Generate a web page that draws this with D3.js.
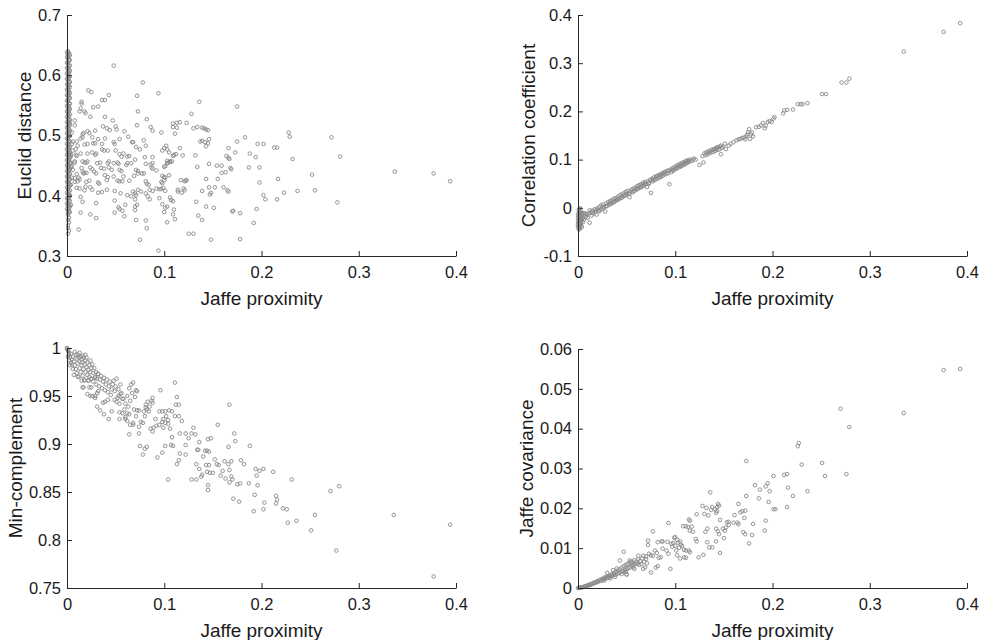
<!DOCTYPE html>
<html>
<head>
<meta charset="utf-8">
<script src="https://cdn.jsdelivr.net/npm/d3@7"></script>
<style>
  body { margin: 0; background: #fff; }
  svg text { font-family: "Liberation Sans", Arial, Helvetica, sans-serif; }
</style>
</head>
<body>
<svg id="chart" width="981" height="640"></svg>
<script>
// tick labels
const xTicks = [0, 0.1, 0.2, 0.3, 0.4]
const euclidTicks = [0.3, 0.4, 0.5, 0.6, 0.7]
const corrTicks = [-0.1, 0, 0.1, 0.2, 0.3, 0.4]
const minTicks = [0.75, 0.8, 0.85, 0.9, 0.95, 1]
const covTicks = [0, 0.01, 0.02, 0.03, 0.04, 0.05, 0.06]

// [Jaffe proximity, Euclid distance]
const euclidPoints = [
  [0.001,0.337],[0.002,0.342],[0.001,0.346],[0.001,0.351],[0.002,0.356],[0.001,0.36],[0.002,0.364],[0.001,0.368],
  [0.001,0.371],[0.002,0.374],[0.001,0.376],[0.002,0.379],[0.001,0.383],[0.002,0.385],[0.001,0.388],[0.001,0.392],
  [0.002,0.394],[0.001,0.397],[0.002,0.401],[0.001,0.403],[0.002,0.406],[0.001,0.41],[0.001,0.412],[0.002,0.415],
  [0.001,0.419],[0.002,0.421],[0.001,0.424],[0.002,0.428],[0.001,0.43],[0.001,0.433],[0.002,0.437],[0.001,0.439],
  [0.002,0.442],[0.001,0.446],[0.002,0.448],[0.001,0.451],[0.001,0.455],[0.002,0.457],[0.001,0.46],[0.002,0.463],
  [0.001,0.466],[0.002,0.469],[0.001,0.472],[0.001,0.475],[0.002,0.478],[0.001,0.481],[0.002,0.484],[0.001,0.487],
  [0.002,0.49],[0.001,0.493],[0.001,0.496],[0.002,0.499],[0.001,0.502],[0.002,0.505],[0.001,0.508],[0.002,0.511],
  [0.001,0.514],[0.001,0.517],[0.002,0.52],[0.001,0.523],[0.002,0.526],[0.001,0.529],[0.002,0.532],[0.001,0.535],
  [0.001,0.538],[0.002,0.541],[0.001,0.544],[0.002,0.547],[0.001,0.55],[0.002,0.553],[0.001,0.556],[0.001,0.559],
  [0.002,0.562],[0.001,0.565],[0.002,0.568],[0.001,0.571],[0.002,0.574],[0.001,0.577],[0.001,0.58],[0.002,0.583],
  [0.001,0.586],[0.002,0.589],[0.001,0.592],[0.002,0.595],[0.001,0.598],[0.001,0.601],[0.002,0.604],[0.001,0.607],
  [0.002,0.61],[0.001,0.613],[0.002,0.616],[0.001,0.619],[0.001,0.622],[0.002,0.625],[0.001,0.628],[0.002,0.631],
  [0.001,0.634],[0.002,0.637],[0.001,0.64],
  [0.003,0.373],[0,0.378],[0.003,0.382],[0,0.387],[0.003,0.391],[0,0.396],[0.003,0.4],[0,0.405],
  [0.003,0.409],[0,0.414],[0.003,0.418],[0,0.423],[0.003,0.427],[0,0.432],[0.003,0.436],[0,0.441],
  [0.003,0.445],[0,0.45],[0.003,0.454],[0,0.459],[0.003,0.463],[0,0.468],[0.003,0.472],[0,0.477],
  [0.003,0.481],[0,0.486],[0.003,0.49],[0,0.495],[0.003,0.499],[0,0.504],[0.003,0.508],[0,0.513],
  [0.003,0.517],[0,0.522],[0.003,0.526],[0,0.531],[0.003,0.535],[0,0.54],[0.003,0.544],[0,0.549],
  [0.003,0.553],[0,0.558],[0.003,0.562],[0,0.567],[0.003,0.571],[0,0.576],[0.003,0.58],[0,0.585],
  [0.003,0.589],[0,0.594],[0.003,0.598],[0,0.603],[0.003,0.607],[0,0.612],[0.003,0.616],[0,0.621],
  [0.003,0.625],[0,0.63],[0.003,0.634],[0,0.638],
  [0.003,0.52],[0.004,0.455],[0.005,0.43],[0.003,0.4],[0.006,0.49],[0.004,0.385],[0.005,0.505],[0.003,0.47],
  [0.004,0.465],[0.005,0.449],[0.004,0.418],[0.005,0.486],[0.008,0.517],[0.009,0.468],[0.008,0.423],[0.011,0.424],
  [0.048,0.616],[0.078,0.588],[0.094,0.57],[0.136,0.556],[0.175,0.548],[0.022,0.575],[0.025,0.572],[0.036,0.559],
  [0.039,0.559],[0.043,0.567],[0.072,0.566],[0.032,0.548],[0.027,0.547],[0.015,0.556],[0.015,0.553],[0.014,0.545],
  [0.018,0.54],[0.019,0.537],[0.013,0.54],[0.073,0.54],[0.128,0.536],[0.039,0.531],[0.024,0.531],[0.047,0.525],
  [0.082,0.527],[0.109,0.52],[0.113,0.521],[0.116,0.522],[0.123,0.521],[0.008,0.525],[0.05,0.515],[0.037,0.515],
  [0.041,0.512],[0.044,0.509],[0.051,0.51],[0.072,0.517],[0.086,0.514],[0.088,0.508],[0.109,0.514],[0.113,0.513],
  [0.13,0.512],[0.134,0.514],[0.139,0.513],[0.141,0.512],[0.143,0.51],[0.145,0.509],[0.097,0.505],[0.111,0.503],
  [0.228,0.505],[0.229,0.498],[0.272,0.497],[0.183,0.497],[0.029,0.508],[0.021,0.507],[0.023,0.504],[0.017,0.504],
  [0.016,0.502],[0.016,0.497],[0.014,0.495],[0.026,0.497],[0.032,0.494],[0.059,0.507],[0.063,0.498],[0.054,0.494],
  [0.039,0.495],[0.079,0.492],[0.146,0.494],[0.137,0.49],[0.139,0.491],[0.142,0.489],[0.145,0.487],[0.143,0.482],
  [0.175,0.49],[0.196,0.486],[0.202,0.486],[0.213,0.48],[0.216,0.48],[0.01,0.49],[0.011,0.483],[0.009,0.477],
  [0.018,0.485],[0.021,0.486],[0.027,0.487],[0.029,0.487],[0.036,0.486],[0.048,0.489],[0.049,0.486],[0.067,0.489],
  [0.068,0.489],[0.071,0.481],[0.075,0.477],[0.081,0.483],[0.102,0.483],[0.1,0.479],[0.103,0.477],[0.098,0.475],
  [0.116,0.479],[0.166,0.479],[0.173,0.472],[0.188,0.47],[0.194,0.464],[0.232,0.461],[0.281,0.465],[0.006,0.475],
  [0.004,0.468],[0.01,0.466],[0.014,0.47],[0.021,0.47],[0.026,0.472],[0.03,0.47],[0.029,0.468],[0.038,0.475],
  [0.036,0.477],[0.042,0.475],[0.05,0.475],[0.054,0.469],[0.058,0.47],[0.056,0.465],[0.064,0.466],[0.062,0.465],
  [0.07,0.46],[0.08,0.464],[0.088,0.464],[0.109,0.466],[0.105,0.472],[0.11,0.468],[0.112,0.469],[0.119,0.467],
  [0.103,0.458],[0.104,0.455],[0.106,0.456],[0.108,0.457],[0.103,0.454],[0.132,0.467],[0.164,0.466],[0.166,0.463],
  [0.167,0.461],[0.008,0.457],[0.008,0.455],[0.016,0.457],[0.018,0.455],[0.02,0.455],[0.021,0.457],[0.031,0.454],
  [0.034,0.455],[0.042,0.454],[0.043,0.457],[0.052,0.455],[0.048,0.454],[0.053,0.453],[0.061,0.451],[0.062,0.454],
  [0.066,0.454],[0.081,0.453],[0.086,0.452],[0.088,0.454],[0.1,0.448],[0.101,0.449],[0.106,0.457],[0.146,0.453],
  [0.154,0.45],[0.159,0.45],[0.169,0.444],[0.168,0.446],[0.187,0.447],[0.198,0.447],[0.134,0.448],[0.337,0.44],
  [0.252,0.435],[0.004,0.448],[0.006,0.443],[0.015,0.446],[0.016,0.44],[0.024,0.447],[0.026,0.444],[0.035,0.446],
  [0.038,0.445],[0.043,0.447],[0.046,0.443],[0.054,0.443],[0.056,0.441],[0.071,0.443],[0.073,0.441],[0.073,0.437],
  [0.087,0.447],[0.088,0.445],[0.092,0.442],[0.077,0.437],[0.079,0.437],[0.159,0.438],[0.163,0.439],[0.017,0.437],
  [0.018,0.438],[0.02,0.438],[0.03,0.437],[0.028,0.44],[0.01,0.436],[0.012,0.43],[0.008,0.429],[0.013,0.427],
  [0.039,0.434],[0.042,0.431],[0.048,0.432],[0.058,0.432],[0.069,0.433],[0.098,0.433],[0.1,0.431],[0.101,0.43],
  [0.105,0.434],[0.143,0.428],[0.155,0.428],[0.217,0.428],[0.02,0.423],[0.023,0.425],[0.032,0.422],[0.033,0.42],
  [0.041,0.426],[0.052,0.425],[0.054,0.424],[0.057,0.424],[0.064,0.425],[0.081,0.424],[0.082,0.42],[0.084,0.418],
  [0.097,0.423],[0.098,0.421],[0.1,0.426],[0.117,0.426],[0.122,0.425],[0.123,0.426],[0.121,0.424],[0.152,0.414],
  [0.161,0.414],[0.165,0.409],[0.166,0.407],[0.01,0.413],[0.013,0.412],[0.019,0.415],[0.018,0.409],[0.024,0.414],
  [0.026,0.41],[0.032,0.405],[0.036,0.406],[0.041,0.41],[0.049,0.408],[0.055,0.404],[0.062,0.401],[0.068,0.407],
  [0.07,0.404],[0.071,0.401],[0.073,0.41],[0.076,0.407],[0.085,0.41],[0.088,0.408],[0.092,0.412],[0.095,0.411],
  [0.097,0.411],[0.081,0.404],[0.114,0.407],[0.114,0.41],[0.118,0.405],[0.12,0.412],[0.121,0.409],[0.101,0.408],
  [0.099,0.413],[0.139,0.408],[0.147,0.402],[0.148,0.405],[0.146,0.414],[0.198,0.422],[0.202,0.401],[0.204,0.394],
  [0.223,0.405],[0.237,0.408],[0.255,0.409],[0.216,0.394],[0.278,0.389],[0.014,0.398],[0.016,0.39],[0.03,0.388],
  [0.049,0.392],[0.06,0.385],[0.053,0.381],[0.054,0.378],[0.057,0.375],[0.066,0.399],[0.07,0.394],[0.072,0.385],
  [0.07,0.382],[0.07,0.376],[0.083,0.399],[0.085,0.394],[0.095,0.396],[0.098,0.386],[0.1,0.373],[0.101,0.38],
  [0.103,0.382],[0.106,0.397],[0.107,0.393],[0.109,0.391],[0.11,0.377],[0.109,0.369],[0.111,0.361],[0.103,0.356],
  [0.133,0.39],[0.135,0.367],[0.143,0.382],[0.151,0.38],[0.139,0.36],[0.17,0.374],[0.171,0.375],[0.178,0.371],
  [0.195,0.378],[0.192,0.355],[0.014,0.372],[0.024,0.369],[0.03,0.363],[0.049,0.372],[0.059,0.366],[0.071,0.36],
  [0.081,0.359],[0.082,0.346],[0.012,0.344],[0.075,0.327],[0.125,0.337],[0.13,0.337],[0.148,0.327],[0.178,0.328],
  [0.094,0.309],[0.377,0.437],[0.394,0.424]
]

// [Jaffe proximity, correlation coefficient]
const corrPoints = [
  [0.001,-0.045],[0.001,-0.042],[0.002,-0.039],[0.001,-0.036],[0.002,-0.033],[0.001,-0.03],[0.002,-0.027],[0.001,-0.024],
  [0.002,-0.021],[0.001,-0.018],[0.002,-0.015],[0.001,-0.012],[0.002,-0.009],[0.001,-0.006],[0.001,-0.003],[0.002,-0.001],
  [0.003,-0.031],[0.003,-0.022],[0.003,-0.015],[0.004,-0.026],[0.004,-0.018],[0.002,-0.043],[0.003,-0.037],[0.004,-0.011],
  [0.005,-0.021],[0.006,-0.025],[0.007,-0.016],[0.008,-0.019],[0.006,-0.011],[0.009,-0.013],[0.01,-0.021],[0.011,-0.012],
  [0.012,-0.031],[0.013,-0.009],[0.014,-0.016],[0.015,-0.006],[0.016,-0.012],[0.017,-0.003],[0.018,-0.008],[0.019,-0.014],
  [0.02,-0.001],[0.021,-0.006],[0.022,0.002],[0.023,-0.004],[0.024,0.005],[0.025,-0.002],[0.026,0.007],[0.027,0.001],
  [0.028,-0.008],[0.029,0.009],[0.03,0.004],[0.031,0.012],[0.032,0.006],[0.033,0.014],[0.034,0.008],[0.035,0.016],
  [0.036,0.011],[0.037,0.019],[0.038,0.013],[0.039,0.02],[0.04,0.016],[0.041,0.023],[0.042,0.018],[0.043,0.026],
  [0.044,0.02],[0.045,0.028],[0.046,0.023],[0.047,0.03],[0.048,0.025],[0.049,0.033],[0.05,0.028],[0.051,0.035],
  [0.052,0.03],[0.053,0.022],[0.054,0.034],[0.055,0.038],[0.056,0.032],[0.057,0.04],[0.058,0.035],[0.059,0.042],
  [0.06,0.038],[0.061,0.045],[0.062,0.04],[0.063,0.047],[0.064,0.042],[0.065,0.049],[0.066,0.045],[0.067,0.052],
  [0.068,0.046],[0.069,0.054],[0.07,0.05],[0.071,0.043],[0.072,0.055],[0.073,0.05],[0.074,0.058],[0.075,0.031],
  [0.076,0.06],[0.077,0.055],[0.078,0.063],[0.079,0.058],[0.08,0.065],[0.081,0.06],[0.082,0.067],[0.083,0.062],
  [0.084,0.069],[0.085,0.064],[0.086,0.071],[0.087,0.066],[0.088,0.073],[0.089,0.069],[0.09,0.075],[0.091,0.07],
  [0.092,0.077],[0.093,0.072],[0.094,0.049],[0.095,0.079],[0.096,0.074],[0.097,0.082],[0.098,0.077],[0.099,0.084],
  [0.1,0.08],[0.101,0.087],[0.102,0.082],[0.103,0.089],[0.104,0.084],[0.105,0.091],[0.106,0.086],[0.107,0.093],
  [0.108,0.088],[0.109,0.095],[0.11,0.09],[0.111,0.097],[0.112,0.093],[0.113,0.099],[0.114,0.095],[0.115,0.1],
  [0.117,0.097],[0.119,0.102],[0.121,0.1],[0.125,0.089],[0.129,0.094],[0.128,0.107],[0.13,0.113],[0.131,0.109],
  [0.132,0.115],[0.133,0.111],[0.134,0.117],[0.135,0.113],[0.136,0.119],[0.137,0.115],[0.138,0.121],[0.139,0.116],
  [0.14,0.122],[0.141,0.118],[0.142,0.124],[0.143,0.12],[0.144,0.126],[0.145,0.121],[0.146,0.127],[0.147,0.111],
  [0.148,0.124],[0.149,0.127],[0.152,0.122],[0.155,0.129],[0.157,0.133],[0.16,0.136],[0.163,0.14],[0.165,0.142],
  [0.167,0.143],[0.169,0.145],[0.171,0.146],[0.172,0.142],[0.173,0.148],[0.174,0.152],[0.175,0.157],[0.176,0.163],
  [0.177,0.143],[0.178,0.152],[0.179,0.156],[0.18,0.148],[0.183,0.167],[0.186,0.168],[0.188,0.171],[0.19,0.176],
  [0.192,0.165],[0.193,0.17],[0.195,0.178],[0.197,0.18],[0.199,0.178],[0.201,0.185],[0.202,0.188],[0.211,0.196],
  [0.212,0.202],[0.215,0.203],[0.221,0.204],[0.226,0.215],[0.229,0.215],[0.231,0.215],[0.236,0.217],[0.251,0.236],
  [0.255,0.236],[0.271,0.26],[0.276,0.26],[0.279,0.268],[0.335,0.324],[0.376,0.365],[0.393,0.383],
  [0.008,-0.012],[0.012,-0.005],[0.015,-0.01],[0.019,-0.004],[0.022,-0.007],[0.026,0.002],[0.029,0.003],[0.033,0.009],
  [0.037,0.012],[0.041,0.017],[0.045,0.021],[0.049,0.026],[0.053,0.029],[0.057,0.034],[0.061,0.039],[0.065,0.043],
  [0.069,0.049],[0.073,0.052],[0.077,0.058],[0.081,0.065],[0.085,0.068],[0.089,0.073],[0.093,0.077],[0.097,0.078],
  [0.101,0.083],[0.105,0.087],[0.109,0.092],[0.113,0.096],[0.118,0.1],[0.143,0.125],[0.147,0.129],[0.151,0.133],
  [0,-0.04],[0,-0.034],[0,-0.028],[0,-0.02],[0,-0.013],[0.003,-0.008],[0.005,-0.03],[0.004,-0.04]
]

// [Jaffe proximity, min-complement]
const minPoints = [
  [0,1],[0,0.999],[0.001,0.998],[0.001,0.997],[0.002,0.995],[0.002,0.993],[0.001,0.991],[0.003,0.99],
  [0.004,0.994],[0.005,0.988],[0.004,0.985],[0.006,0.991],[0.007,0.986],[0.008,0.982],[0.009,0.993],[0.009,0.978],
  [0.01,0.989],[0.01,0.974],[0.011,0.984],[0.011,0.97],[0.012,0.99],[0.013,0.979],[0.013,0.986],[0.014,0.975],
  [0.014,0.991],[0.015,0.982],[0.015,0.988],[0.016,0.971],[0.016,0.985],[0.017,0.978],[0.017,0.99],[0.018,0.983],
  [0.018,0.967],[0.019,0.987],[0.019,0.975],[0.02,0.98],[0.02,0.99],[0.021,0.972],[0.021,0.985],[0.022,0.977],
  [0.022,0.966],[0.023,0.982],[0.023,0.97],[0.024,0.987],[0.024,0.975],[0.025,0.979],[0.025,0.968],[0.026,0.983],
  [0.027,0.974],[0.027,0.965],[0.028,0.979],[0.029,0.97],[0.03,0.975],[0.03,0.962],[0.031,0.968],[0.032,0.973],
  [0.033,0.96],[0.034,0.967],[0.035,0.971],[0.036,0.958],[0.037,0.965],[0.038,0.969],[0.039,0.956],[0.04,0.962],
  [0.041,0.967],[0.042,0.954],[0.043,0.96],[0.044,0.965],[0.045,0.951],[0.046,0.957],[0.047,0.962],[0.048,0.966],
  [0.049,0.955],[0.05,0.96],[0.051,0.968],[0.052,0.948],[0.053,0.957],[0.055,0.962],[0.056,0.953],[0.058,0.947],
  [0.06,0.942],[0.062,0.95],[0.063,0.939],[0.065,0.945],[0.067,0.953],
  [0.002,0.987],[0.005,0.983],[0.007,0.972],[0.012,0.97],[0.015,0.966],[0.018,0.966],[0.022,0.966],[0.025,0.968],
  [0.029,0.969],[0.032,0.973],[0.016,0.959],[0.017,0.959],[0.023,0.959],[0.025,0.959],[0.021,0.952],[0.024,0.95],
  [0.026,0.95],[0.029,0.948],[0.029,0.95],[0.031,0.953],[0.032,0.955],[0.008,0.996],[0.011,0.993],[0.013,0.995],
  [0.016,0.992],[0.019,0.993],[0.006,0.978],[0.003,0.982],
  [0.111,0.964],[0.096,0.956],[0.113,0.949],[0.115,0.941],[0.112,0.941],[0.167,0.941],[0.155,0.92],[0.13,0.917],
  [0.132,0.91],[0.128,0.911],[0.122,0.911],[0.116,0.911],[0.118,0.924],[0.115,0.929],[0.111,0.929],[0.108,0.934],
  [0.105,0.935],[0.101,0.934],[0.102,0.929],[0.098,0.934],[0.095,0.934],[0.099,0.926],[0.098,0.923],[0.099,0.917],
  [0.106,0.916],[0.108,0.907],[0.107,0.899],[0.109,0.898],[0.104,0.921],[0.101,0.922],[0.104,0.925],[0.091,0.926],
  [0.089,0.917],[0.086,0.916],[0.088,0.913],[0.092,0.919],[0.095,0.92],[0.088,0.943],[0.085,0.939],[0.084,0.934],
  [0.082,0.936],[0.081,0.941],[0.083,0.944],[0.079,0.934],[0.081,0.938],[0.08,0.929],[0.087,0.945],[0.088,0.948],
  [0.07,0.949],[0.071,0.956],[0.072,0.955],[0.068,0.964],[0.066,0.962],[0.064,0.958],[0.069,0.936],[0.072,0.935],
  [0.074,0.935],[0.071,0.929],[0.074,0.918],[0.076,0.923],[0.078,0.922],[0.074,0.911],[0.064,0.91],[0.068,0.92],
  [0.065,0.92],[0.068,0.922],[0.06,0.928],[0.06,0.926],[0.062,0.924],[0.062,0.932],[0.064,0.931],[0.059,0.936],
  [0.054,0.933],[0.057,0.932],[0.054,0.926],[0.046,0.934],[0.043,0.926],[0.038,0.931],[0.031,0.939],[0.034,0.935],
  [0.037,0.943],[0.039,0.944],[0.042,0.946],[0.049,0.946],[0.051,0.944],[0.053,0.95],[0.054,0.942],[0.057,0.947],
  [0.055,0.952],[0.075,0.898],[0.078,0.889],[0.082,0.897],[0.08,0.895],[0.093,0.886],[0.098,0.891],[0.101,0.898],
  [0.104,0.863],[0.113,0.879],[0.115,0.883],[0.116,0.89],[0.122,0.899],[0.122,0.889],[0.125,0.906],[0.136,0.902],
  [0.134,0.894],[0.135,0.894],[0.133,0.879],[0.136,0.874],[0.128,0.863],[0.133,0.863],[0.138,0.866],[0.139,0.868],
  [0.14,0.887],[0.142,0.893],[0.144,0.893],[0.146,0.892],[0.143,0.878],[0.146,0.878],[0.145,0.905],[0.148,0.906],
  [0.144,0.871],[0.147,0.87],[0.15,0.87],[0.145,0.857],[0.145,0.852],[0.152,0.884],[0.154,0.879],[0.156,0.878],
  [0.158,0.867],[0.16,0.872],[0.163,0.864],[0.162,0.882],[0.166,0.879],[0.167,0.873],[0.167,0.86],[0.17,0.863],
  [0.169,0.866],[0.166,0.897],[0.169,0.882],[0.172,0.911],[0.173,0.903],[0.171,0.843],[0.175,0.858],[0.178,0.859],
  [0.177,0.84],[0.179,0.883],[0.182,0.879],[0.188,0.898],[0.187,0.859],[0.192,0.83],[0.193,0.847],[0.194,0.874],
  [0.198,0.872],[0.202,0.874],[0.195,0.867],[0.196,0.857],[0.203,0.839],[0.202,0.832],[0.212,0.871],[0.215,0.846],
  [0.216,0.842],[0.215,0.838],[0.222,0.833],[0.226,0.832],[0.227,0.818],[0.231,0.863],[0.236,0.82],[0.251,0.81],
  [0.255,0.826],[0.271,0.851],[0.277,0.789],[0.28,0.856],[0.336,0.826],[0.377,0.762],[0.394,0.816]
]

// [Jaffe proximity, Jaffe covariance]
const covPoints = [
  [0,0],[0.001,0],[0.002,0.0001],[0.003,0.0001],[0.004,0.0002],[0.005,0.0002],[0.006,0.0003],[0.007,0.0004],
  [0.008,0.0005],[0.009,0.0005],[0.01,0.0006],[0.011,0.0008],[0.012,0.0007],[0.013,0.001],[0.014,0.0009],[0.015,0.0011],
  [0.016,0.0013],[0.017,0.0012],[0.018,0.0015],[0.019,0.0014],[0.02,0.0017],[0.021,0.0016],[0.022,0.0019],[0.023,0.0021],
  [0.024,0.0018],[0.025,0.0023],[0.026,0.0021],[0.027,0.0026],[0.028,0.0024],[0.029,0.0028],[0.03,0.0025],[0.031,0.003],
  [0.032,0.0027],[0.033,0.0032],[0.034,0.0029],[0.035,0.0035],[0.036,0.0031],[0.037,0.0038],[0.038,0.0033],[0.039,0.0041],
  [0.04,0.0036],[0.041,0.0044],[0.042,0.0037],[0.043,0.0047],[0.044,0.004],[0.045,0.0051],[0.046,0.0042],[0.047,0.0055],
  [0.048,0.0045],[0.049,0.0058],[0.05,0.0047],[0.051,0.006],[0.052,0.005],[0.053,0.0064],[0.054,0.0052],[0.055,0.0067],
  [0.056,0.0055],[0.057,0.0058],[0.058,0.007],[0.059,0.0061],[0.06,0.0066],[0.062,0.0072],[0.063,0.0058],[0.064,0.0068],
  [0.066,0.0074],[0.068,0.0066],[0.07,0.0079],[0.071,0.0062],[0.03,0.0038],[0.036,0.0045],[0.04,0.0049],[0.047,0.0091],
  [0.043,0.0069],[0.05,0.0034],[0.049,0.0041],[0.045,0.0035],[0.038,0.0028],[0.033,0.0024],[0.027,0.0019],[0.058,0.0048],
  [0.393,0.055],[0.376,0.0547],[0.335,0.0439],[0.27,0.045],[0.279,0.0404],[0.276,0.0286],[0.254,0.0281],[0.251,0.0314],
  [0.236,0.0243],[0.23,0.031],[0.226,0.0356],[0.227,0.0364],[0.221,0.0231],[0.216,0.0252],[0.215,0.0203],[0.212,0.0284],
  [0.215,0.0286],[0.201,0.0281],[0.201,0.0198],[0.203,0.0198],[0.196,0.0216],[0.197,0.0243],[0.195,0.0263],[0.193,0.0255],
  [0.187,0.0247],[0.186,0.0225],[0.182,0.0258],[0.173,0.0319],[0.173,0.0231],[0.165,0.0211],[0.167,0.019],[0.171,0.0176],
  [0.172,0.0194],[0.169,0.0193],[0.161,0.0183],[0.16,0.0164],[0.164,0.0164],[0.165,0.016],[0.18,0.0161],[0.17,0.014],
  [0.172,0.0135],[0.179,0.0133],[0.176,0.0112],[0.193,0.0169],[0.192,0.0144],[0.136,0.024],[0.128,0.0206],[0.132,0.0201],
  [0.122,0.0185],[0.138,0.0203],[0.137,0.0196],[0.141,0.0198],[0.143,0.0203],[0.144,0.0211],[0.145,0.0207],[0.143,0.0193],
  [0.142,0.0189],[0.13,0.0186],[0.134,0.0182],[0.146,0.0171],[0.153,0.0165],[0.155,0.0166],[0.155,0.0158],[0.149,0.0149],
  [0.151,0.0144],[0.152,0.0152],[0.133,0.0149],[0.131,0.0141],[0.142,0.0149],[0.144,0.0142],[0.145,0.0135],[0.15,0.0125],
  [0.133,0.0115],[0.135,0.0102],[0.138,0.0102],[0.142,0.0117],[0.146,0.0088],[0.124,0.0077],[0.129,0.0083],[0.114,0.0172],
  [0.115,0.0169],[0.117,0.0154],[0.108,0.0155],[0.111,0.0155],[0.113,0.0153],[0.115,0.0144],[0.118,0.0141],[0.121,0.0123],
  [0.122,0.0117],[0.093,0.0163],[0.077,0.0142],[0.072,0.0119],[0.072,0.0108],[0.082,0.0115],[0.086,0.0117],[0.087,0.0117],
  [0.092,0.0116],[0.096,0.0111],[0.097,0.0104],[0.099,0.0126],[0.1,0.0128],[0.102,0.0121],[0.103,0.0114],[0.105,0.0117],
  [0.106,0.0109],[0.107,0.0105],[0.109,0.0096],[0.111,0.0094],[0.114,0.0094],[0.115,0.009],[0.109,0.0077],[0.111,0.0076],
  [0.101,0.0094],[0.102,0.0082],[0.105,0.0074],[0.095,0.0048],[0.087,0.0099],[0.091,0.0094],[0.093,0.0086],[0.079,0.0094],
  [0.081,0.0088],[0.083,0.0076],[0.085,0.0077],[0.073,0.0086],[0.075,0.0082],[0.077,0.0081],[0.08,0.0051],[0.082,0.0055],
  [0.075,0.0039],[0.067,0.0048],[0.069,0.0052],[0.05,0.0034],[0.049,0.0041],[0.057,0.0052],[0.061,0.0061],[0.065,0.006],
  [0.062,0.0081],[0.067,0.0081],[0.07,0.0073],[0.053,0.0069],[0.055,0.0063],[0.1,0.0106],[0.104,0.0101],[0.098,0.0113]
]

const panels = [
  { points: euclidPoints, yTicks: euclidTicks, yLabel: "Euclid distance", left: 67, top: 15, h: 241, labelX: 24 },
  { points: corrPoints, yTicks: corrTicks, yLabel: "Correlation coefficient", left: 578, top: 15, h: 241, labelX: 528 },
  { points: minPoints, yTicks: minTicks, yLabel: "Min-complement", left: 67, top: 348, h: 240, labelX: 15 },
  { points: covPoints, yTicks: covTicks, yLabel: "Jaffe covariance", left: 578, top: 349, h: 239, labelX: 526 }
]

const width = 389
const svg = d3.select("#chart")
const fmt = d => String(d)

panels.forEach(p => {
  const x = d3.scaleLinear().domain([0, 0.4]).range([0, width])
  const y = d3.scaleLinear().domain([p.yTicks[0], p.yTicks[p.yTicks.length - 1]]).range([p.h, 0])
  const g = svg.append("g").attr("transform", `translate(${p.left},${p.top})`)

  g.append("g")
    .selectAll("circle")
    .data(p.points)
    .enter()
    .append("circle")
    .attr("cx", d => x(d[0]))
    .attr("cy", d => y(d[1]))
    .attr("r", 1.8)
    .attr("fill", "none")
    .attr("stroke", "#888")
    .attr("stroke-width", 0.9)

  const xAxis = g.append("g")
    .attr("transform", `translate(0,${p.h})`)
    .call(d3.axisBottom(x).tickValues(xTicks).tickFormat(fmt).tickSizeInner(-5).tickSizeOuter(0).tickPadding(10))
  const yAxis = g.append("g")
    .call(d3.axisLeft(y).tickValues(p.yTicks).tickFormat(fmt).tickSizeInner(-5).tickSizeOuter(0).tickPadding(6))

  ;[xAxis, yAxis].forEach(a => {
    a.attr("color", "#262626").attr("font-size", 16.5).attr("font-family", null)
    a.selectAll("text").attr("fill", "#1a1a1a")
  })

  g.append("text")
    .attr("x", width / 2)
    .attr("y", p.h + 42)
    .attr("dy", "0.35em")
    .attr("text-anchor", "middle")
    .attr("font-size", 19)
    .attr("fill", "#1a1a1a")
    .text("Jaffe proximity")

  svg.append("text")
    .attr("transform", `translate(${p.labelX},${p.top + p.h / 2}) rotate(-90)`)
    .attr("dy", "0.35em")
    .attr("text-anchor", "middle")
    .attr("font-size", 19)
    .attr("fill", "#1a1a1a")
    .text(p.yLabel)
})
</script>
</body>
</html>
